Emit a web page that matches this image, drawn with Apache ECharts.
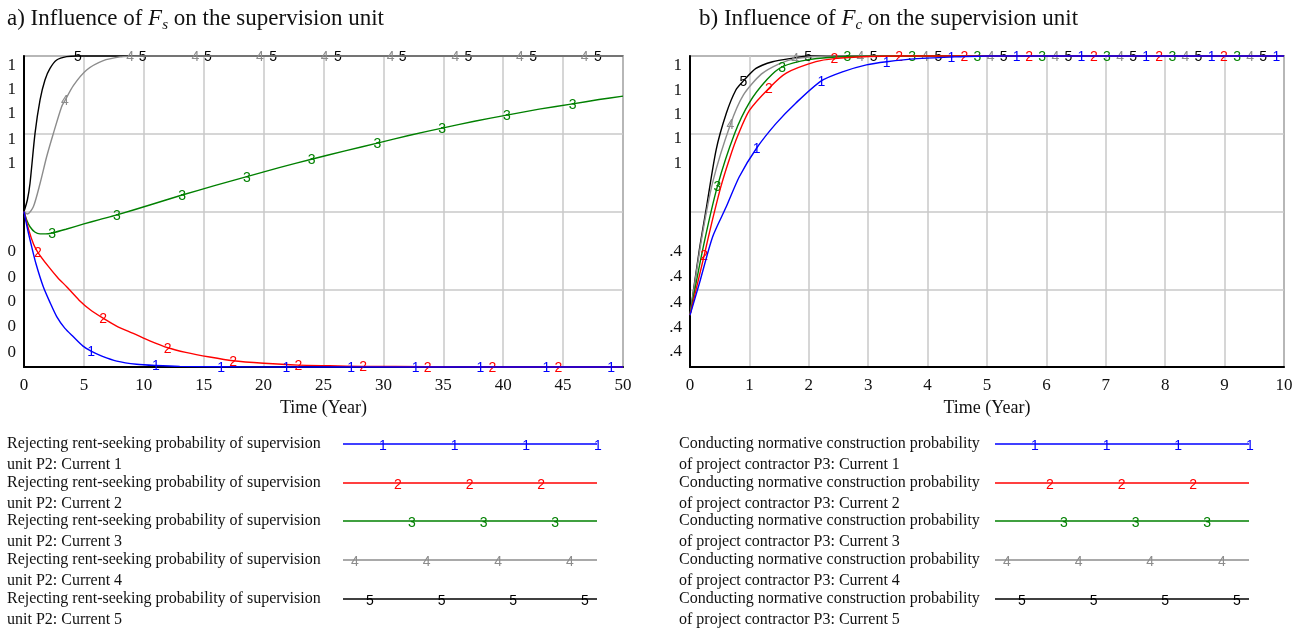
<!DOCTYPE html>
<html><head><meta charset="utf-8">
<script src="https://cdn.jsdelivr.net/npm/echarts@6/dist/echarts.min.js"></script>
<style>html,body{margin:0;padding:0;background:#fff}#c{width:1307px;height:628px}</style>
</head><body><div id="c"></div>
<script>
// ---------- data ----------
const seriesNames = ['1', '2', '3', '4', '5'];
const seriesColors = ['#0000ff', '#ff0000', '#008000', '#8c8c8c', '#000000'];

// Left chart: x = Time (Year) 0..50, y = probability 0..1
const leftP1 = [[0,0.5],[0.3,0.443],[0.64,0.387],[1.0,0.332],[1.61,0.258],[2.2,0.205],[2.73,0.162],[3.4,0.125],[4.12,0.097],[4.9,0.068],[5.6,0.051],[6.5,0.035],[7.74,0.019],[9.4,0.009],[11.0,0.005],[13.0,0.002],[16.45,0.001],[21.9,0],[27.3,0],[32.7,0],[38.1,0],[43.6,0],[49.0,0],[50,0]];
const leftP2 = [[0,0.5],[0.4,0.44],[0.8,0.395],[1.17,0.368],[2.0,0.325],[2.8,0.288],[3.56,0.258],[4.6,0.215],[5.5,0.185],[6.6,0.157],[7.8,0.13],[9.12,0.108],[10.5,0.084],[12.0,0.062],[13.5,0.047],[15.5,0.032],[17.45,0.02],[20.0,0.012],[22.9,0.006],[25.5,0.004],[28.3,0.002],[33.7,0.001],[39.1,0],[44.6,0],[50,0]];
const leftP3 = [[0,0.5],[0.25,0.47],[0.5,0.451],[0.9,0.434],[1.34,0.428],[1.8,0.428],[2.34,0.431],[3.5,0.443],[5.0,0.46],[6.3,0.474],[7.76,0.489],[10.5,0.521],[13.2,0.553],[15.9,0.583],[18.6,0.612],[21.3,0.641],[24.0,0.668],[26.8,0.695],[29.5,0.72],[32.2,0.745],[34.9,0.768],[37.6,0.79],[40.3,0.81],[43.0,0.829],[45.8,0.846],[48.0,0.86],[50,0.871]];
const leftP4 = [[0,0.5],[0.28,0.492],[0.78,0.515],[1.34,0.59],[1.89,0.676],[2.45,0.751],[3.14,0.837],[3.42,0.857],[4.12,0.905],[5.23,0.955],[6.62,0.985],[8.01,0.997],[8.85,0.999],[10.0,1],[14.3,1],[19.7,1],[25.1,1],[30.6,1],[36.0,1],[41.4,1],[46.8,1],[50,1]];
const leftP5 = [[0,0.5],[0.28,0.537],[0.5,0.59],[0.92,0.751],[1.34,0.859],[1.75,0.923],[2.17,0.96],[2.73,0.987],[3.56,0.998],[4.5,1],[9.9,1],[15.35,1],[20.8,1],[26.2,1],[31.6,1],[37.1,1],[42.5,1],[47.9,1],[50,1]];
// times at which the curve number is printed on each line
const leftLabelX1 = [5.6, 11.0, 16.45, 21.9, 27.3, 32.7, 38.1, 43.6, 49.0];
const leftLabelX2 = [1.17, 6.6, 12.0, 17.45, 22.9, 28.3, 33.7, 39.1, 44.6];
const leftLabelX3 = [2.34, 7.76, 13.2, 18.6, 24.0, 29.5, 34.9, 40.3, 45.8];
const leftLabelX4 = [3.42, 8.85, 14.3, 19.7, 25.1, 30.6, 36.0, 41.4, 46.8];
const leftLabelX5 = [4.5, 9.9, 15.35, 20.8, 26.2, 31.6, 37.1, 42.5, 47.9];

// Right chart: x = Time (Year) 0..10, y = probability 0.4..1
const rightP1 = [[0,0.5],[0.157,0.561],[0.38,0.651],[0.61,0.709],[0.83,0.767],[1.12,0.822],[1.45,0.87],[1.78,0.909],[2.21,0.952],[2.58,0.97],[2.97,0.983],[3.31,0.989],[3.82,0.995],[4.40,0.998],[5.0,1],[5.50,1],[6.59,1],[7.68,1],[8.78,1],[9.87,1],[10,1]];
const rightP2 = [[0,0.5],[0.24,0.616],[0.37,0.68],[0.52,0.748],[0.66,0.8],[0.8,0.845],[1.0,0.895],[1.33,0.938],[1.62,0.967],[2.12,0.989],[2.43,0.995],[3.0,0.999],[3.52,1],[4.62,1],[5.71,1],[6.80,1],[7.90,1],[8.99,1],[10,1]];
const rightP3 = [[0,0.5],[0.22,0.63],[0.46,0.748],[0.75,0.85],[1.0,0.91],[1.3,0.955],[1.55,0.979],[2.0,0.993],[2.65,0.999],[3.74,1],[4.84,1],[5.93,1],[7.02,1],[8.12,1],[9.21,1],[10,1]];
const rightP4 = [[0,0.5],[0.2,0.65],[0.39,0.76],[0.68,0.868],[0.9,0.925],[1.2,0.965],[1.5,0.985],[1.77,0.995],[2.3,1],[2.87,1],[3.96,1],[5.06,1],[6.15,1],[7.24,1],[8.34,1],[9.43,1],[10,1]];
const rightP5 = [[0,0.5],[0.157,0.626],[0.27,0.703],[0.44,0.819],[0.61,0.889],[0.77,0.934],[0.90,0.952],[1.11,0.976],[1.39,0.989],[1.73,0.996],[1.99,1],[3.09,1],[4.18,1],[5.28,1],[6.37,1],[7.46,1],[8.56,1],[9.65,1],[10,1]];
const rightLabelX1 = [1.12, 2.21, 3.31, 4.40, 5.50, 6.59, 7.68, 8.78, 9.87];
const rightLabelX2 = [0.24, 1.33, 2.43, 3.52, 4.62, 5.71, 6.80, 7.90, 8.99];
const rightLabelX3 = [0.46, 1.55, 2.65, 3.74, 4.84, 5.93, 7.02, 8.12, 9.21];
const rightLabelX4 = [0.68, 1.77, 2.87, 3.96, 5.06, 6.15, 7.24, 8.34, 9.43];
const rightLabelX5 = [0.90, 1.99, 3.09, 4.18, 5.28, 6.37, 7.46, 8.56, 9.65];

// y-axis tick labels as printed (truncated) in the original
const leftYLabelValues = [0.048, 0.129, 0.209, 0.289, 0.370, 0.653, 0.733, 0.814, 0.891, 0.968];
const leftYLabelTexts = ['0', '0', '0', '0', '0', '1', '1', '1', '1', '1'];
const rightYLabelValues = [0.429, 0.477, 0.525, 0.574, 0.622, 0.792, 0.840, 0.888, 0.934, 0.981];
const rightYLabelTexts = ['.4', '.4', '.4', '.4', '.4', '1', '1', '1', '1', '1'];

const xAxisName = 'Time (Year)';
const leftLegendLine1 = 'Rejecting rent-seeking probability of supervision';
const leftLegendLine2 = 'unit P2: Current ';
const rightLegendLine1 = 'Conducting normative construction probability';
const rightLegendLine2 = 'of project contractor P3: Current ';

// ---------- chart ----------
const SERIF = '"Liberation Serif", "DejaVu Serif", serif';
const SANS = '"Liberation Sans", Arial, sans-serif';
const chart = echarts.init(document.getElementById('c'), null, {renderer: 'canvas'});

const grids = [
  {left: 24, top: 56, width: 599, height: 311},
  {left: 690, top: 56, width: 594, height: 311}
].map(g => Object.assign(g, {show: true, borderColor: '#5a5a5a', borderWidth: 1.5, backgroundColor: 'transparent'}));

function xAxis(gi, max, interval) {
  return {
    type: 'value', gridIndex: gi, min: 0, max: max, interval: interval,
    name: xAxisName, nameLocation: 'middle', nameGap: 32,
    nameTextStyle: {fontFamily: SERIF, fontSize: 18, color: '#111'},
    axisLine: {show: true, onZero: false, lineStyle: {color: '#000', width: 2}},
    axisTick: {show: false},
    axisLabel: {fontFamily: SERIF, fontSize: 17, color: '#111', margin: 10},
    splitLine: {show: true, lineStyle: {color: '#c8c8c8', width: 1.5}}
  };
}
function yAxisMain(gi, min, max, interval) {
  return {
    type: 'value', gridIndex: gi, min: min, max: max, interval: interval,
    axisLine: {show: true, onZero: false, lineStyle: {color: '#000', width: 2}},
    axisTick: {show: false}, axisLabel: {show: false},
    splitLine: {show: true, lineStyle: {color: '#c8c8c8', width: 1.5}}
  };
}
function yAxisLabels(gi, min, max, vals, texts) {
  return {
    type: 'value', gridIndex: gi, min: min, max: max, position: 'left',
    axisLine: {show: false}, axisTick: {show: false}, splitLine: {show: false},
    axisLabel: {
      show: true, customValues: vals, margin: 8,
      fontFamily: SERIF, fontSize: 17, color: '#111',
      formatter: function (v) {
        let best = 0;
        for (let i = 1; i < vals.length; i++) if (Math.abs(vals[i] - v) < Math.abs(vals[best] - v)) best = i;
        return texts[best];
      }
    }
  };
}

function mkSeries(data, labelXs, si, gi) {
  const color = seriesColors[si];
  return {
    type: 'line', name: seriesNames[si], xAxisIndex: gi, yAxisIndex: gi * 2,
    data: data.map(p => labelXs.some(v => Math.abs(v - p[0]) < 1e-9)
      ? {value: p, label: {show: true}} : {value: p}),
    symbol: 'circle', symbolSize: 0, showSymbol: true, showAllSymbol: true,
    smooth: 0.25,
    lineStyle: {color: color, width: 1.4}, itemStyle: {color: color},
    label: {show: false, formatter: seriesNames[si], position: 'inside', color: color,
      fontFamily: SANS, fontSize: 14, textBorderWidth: 0, offset: [0, 1]},
    clip: false, silent: true, animation: false, z: 10 - si
  };
}

const leftData = [leftP1, leftP2, leftP3, leftP4, leftP5];
const leftLabels = [leftLabelX1, leftLabelX2, leftLabelX3, leftLabelX4, leftLabelX5];
const rightData = [rightP1, rightP2, rightP3, rightP4, rightP5];
const rightLabels = [rightLabelX1, rightLabelX2, rightLabelX3, rightLabelX4, rightLabelX5];

const series = [];
for (let si = 4; si >= 0; si--) series.push(mkSeries(leftData[si], leftLabels[si], si, 0));
for (let si = 4; si >= 0; si--) series.push(mkSeries(rightData[si], rightLabels[si], si, 1));

// ---------- titles and legends (graphic) ----------
const graphic = [];
function title(x, prefix, sub) {
  graphic.push({
    type: 'text', x: x, y: 4,
    style: {
      text: '{n|' + prefix + ' }{i|F}{s|' + sub + '}{n| on the supervision unit}',
      fill: '#111',
      rich: {
        n: {fontFamily: SERIF, fontSize: 23, lineHeight: 29, fill: '#111'},
        i: {fontFamily: SERIF, fontSize: 23, lineHeight: 29, fontStyle: 'italic', fill: '#111'},
        s: {fontFamily: SERIF, fontSize: 15, lineHeight: 16, fontStyle: 'italic', verticalAlign: 'bottom', fill: '#111'}
      }
    }
  });
}
title(7, 'a) Influence of', 's');
title(699, 'b) Influence of', 'c');

const legendRowY = [444, 483, 521, 560, 599];
const legendNumOffset = [40, 55, 69, 12, 27];
function legend(textX, lineX1, lineX2, line1, line2) {
  for (let si = 0; si < 5; si++) {
    const y = legendRowY[si];
    const color = seriesColors[si];
    graphic.push({type: 'text', x: textX, y: y, style: {text: line1, fontFamily: SERIF, fontSize: 16, fill: '#111', verticalAlign: 'middle'}});
    graphic.push({type: 'text', x: textX, y: y + 21, style: {text: line2 + seriesNames[si], fontFamily: SERIF, fontSize: 16, fill: '#111', verticalAlign: 'middle'}});
    graphic.push({type: 'line', shape: {x1: lineX1, y1: y, x2: lineX2, y2: y}, style: {stroke: color, lineWidth: 1.5}});
    for (let k = 0; k < 4; k++) {
      const nx = lineX1 + legendNumOffset[si] + k * 71.6;
      if (nx > lineX2 + 1) break;
      graphic.push({type: 'text', x: nx, y: y + 2, style: {text: seriesNames[si], fontFamily: SANS, fontSize: 14, fill: color, align: 'center', verticalAlign: 'middle'}});
    }
  }
}
legend(7, 343, 597, leftLegendLine1, leftLegendLine2);
legend(679, 995, 1249, rightLegendLine1, rightLegendLine2);

chart.setOption({
  animation: false,
  backgroundColor: '#ffffff',
  grid: grids,
  xAxis: [xAxis(0, 50, 5), xAxis(1, 10, 1)],
  yAxis: [
    yAxisMain(0, 0, 1, 0.25), yAxisLabels(0, 0, 1, leftYLabelValues, leftYLabelTexts),
    yAxisMain(1, 0.4, 1, 0.15), yAxisLabels(1, 0.4, 1, rightYLabelValues, rightYLabelTexts)
  ],
  series: series,
  graphic: graphic
});
</script>
</body></html>
